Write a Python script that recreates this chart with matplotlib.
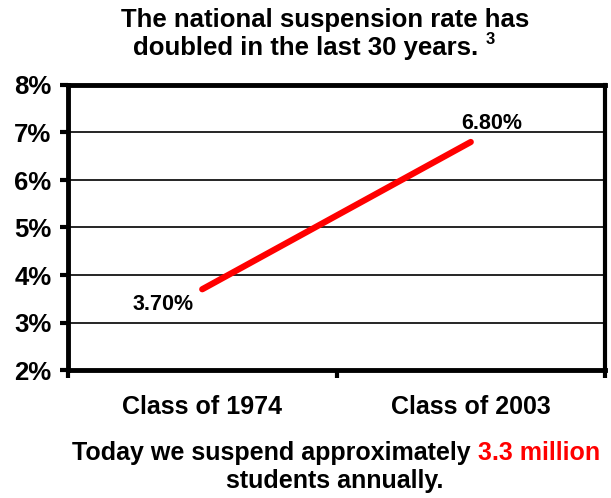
import matplotlib.pyplot as plt

plt.rcParams['font.family'] = ['Liberation Sans', 'DejaVu Sans']
plt.rcParams['font.weight'] = 'bold'

# data
categories = ['Class of 1974', 'Class of 2003']
rates = [3.7, 6.8]
rate_labels = ['3.70%', '6.80%']
y_ticks = [2, 3, 4, 5, 6, 7, 8]

fig = plt.figure(figsize=(6.11, 4.98), dpi=100)
ax = fig.add_axes([68 / 611, 1 - 370 / 498, (605 - 68) / 611, (370 - 85) / 498])

x = list(range(len(categories)))
ax.plot(x, rates, color='#ff0000', linewidth=4.5, solid_capstyle='round', zorder=3)

# value labels
ax.annotate(rate_labels[0], (x[0], rates[0]), xytext=(-28, -11), textcoords='offset points',
            ha='center', va='center', fontsize=15.5, fontweight='bold')
ax.annotate(rate_labels[1], (x[1], rates[1]), xytext=(15, 13), textcoords='offset points',
            ha='center', va='center', fontsize=15.5, fontweight='bold')

ax.set_xlim(-0.5, 1.5)
ax.set_ylim(2, 8)

ax.set_yticks(y_ticks)
ax.set_yticklabels([f'{t}%' for t in y_ticks], fontsize=18.5, fontweight='bold')
ax.yaxis.grid(True, color='black', linewidth=1.2)
ax.set_axisbelow(True)

# category boundaries as major ticks, names as minor tick labels
ax.set_xticks([-0.5, 0.5, 1.5])
ax.set_xticklabels([])
ax.set_xticks(x, minor=True)
ax.set_xticklabels(categories, minor=True, fontsize=18, fontweight='bold')

ax.tick_params(axis='y', direction='out', length=6, width=3, pad=6)
ax.tick_params(axis='x', which='major', direction='out', length=6, width=3)
ax.tick_params(axis='x', which='minor', length=0, pad=18)

for side in ['left', 'bottom', 'top']:
    ax.spines[side].set_linewidth(3.5)
ax.spines['right'].set_linewidth(3)
for s in ax.spines.values():
    s.set_color('black')

# title
fig.text(325 / 611, 1 - 20 / 498, 'The national suspension rate has',
         ha='center', va='center', fontsize=18.5, fontweight='bold')
t2 = fig.text(306 / 611, 1 - 48 / 498, 'doubled in the last 30 years.',
              ha='center', va='center', fontsize=18.5, fontweight='bold')
ax.annotate('3', xy=(1, 1), xycoords=t2, xytext=(5, 3), textcoords='offset points',
            ha='left', va='top', fontsize=12, fontweight='bold', annotation_clip=False)

# bottom note
fig.text(471 / 611, 1 - 460 / 498, 'Today we suspend approximately',
         ha='right', va='baseline', fontsize=18, fontweight='bold')
fig.text(478 / 611, 1 - 460 / 498, '3.3 million',
         ha='left', va='baseline', fontsize=18, fontweight='bold', color='#ff0000')
fig.text(335 / 611, 1 - 488 / 498, 'students annually.',
         ha='center', va='baseline', fontsize=18, fontweight='bold')

fig.savefig('out.png', dpi=100, facecolor='white')
